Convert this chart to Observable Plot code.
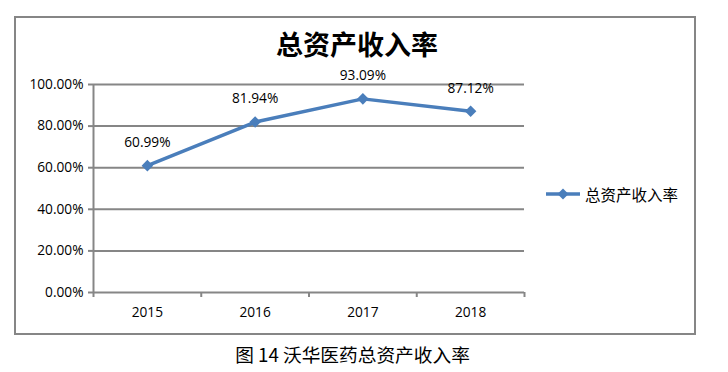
<!DOCTYPE html>
<html>
<head>
<meta charset="utf-8">
<script src="https://cdn.jsdelivr.net/npm/d3@7"></script>
<script src="https://cdn.jsdelivr.net/npm/@observablehq/plot@0.6"></script>
<style>
  html, body { margin: 0; padding: 0; background: #fff; overflow: hidden; }
  #page { position: relative; width: 728px; height: 372px; }
  #chart { position: absolute; left: 0; top: 0; }
  #frame { position: absolute; left: 14px; top: 16px; width: 682px; height: 319px;
           border: 2px solid #868686; box-sizing: border-box; pointer-events: none; }
  .cjk { font-family: "Noto Sans CJK SC", sans-serif; position: absolute; white-space: nowrap; }
  #title { left: 0; width: 714px; top: 30px; text-align: center; font-size: 27px; line-height: 27px; font-weight: 700; color: #000; }
  #legend { left: 546px; top: 184px; height: 20px; display: flex; align-items: center; }
  #legend span { font-size: 15.5px; line-height: 16px; color: #000; margin-left: 5px; }
  #caption { left: 0; width: 705px; top: 344.6px; text-align: center; font-size: 18.7px; line-height: 18.7px; color: #000; }
</style>
</head>
<body>
<div id="page">
  <div id="chart"></div>
  <div id="frame"></div>
  <div id="title" class="cjk"></div>
  <div id="legend" class="cjk"></div>
  <div id="caption" class="cjk"></div>
</div>
<script>
const chartTitle = "总资产收入率";
const seriesName = "总资产收入率";
const caption = "图 14 沃华医药总资产收入率";
const years = [2015, 2016, 2017, 2018];
const values = [0.6099, 0.8194, 0.9309, 0.8712];
const yTicks = [0, 0.2, 0.4, 0.6, 0.8, 1.0];

const lineColor = "#4a7ebb";
const gridColor = "#868686";
const fmt = d => (d * 100).toFixed(2) + "%";

const data = years.map((y, i) => ({year: y, value: values[i]}));
const boundaries = years.map(y => y - 0.5).concat([years[years.length - 1] + 0.5]);

const plot = Plot.plot({
  width: 728,
  height: 340,
  marginLeft: 93,
  marginRight: 204,
  marginTop: 84,
  marginBottom: 48,
  x: {domain: [boundaries[0], boundaries[boundaries.length - 1]]},
  y: {domain: [0, 1]},
  style: {fontFamily: "'Open Sans', sans-serif", fontSize: "13.7px", color: "#000", background: "transparent"},
  marks: [
    Plot.ruleY(yTicks, {stroke: gridColor, strokeWidth: 2, strokeOpacity: 1}),
    Plot.ruleX([boundaries[0]], {y1: 0, y2: 1, stroke: gridColor, strokeWidth: 2}),
    Plot.axisY({ticks: yTicks, tickFormat: fmt, tickSize: 5, tickPadding: 5, stroke: gridColor, strokeWidth: 2, strokeOpacity: 1, label: null, fill: "#000"}),
    Plot.axisX({ticks: boundaries, tickFormat: () => "", tickSize: 5, stroke: gridColor, strokeWidth: 2, strokeOpacity: 1, label: null}),
    Plot.axisX({ticks: years, tickFormat: d => String(d), tickSize: 0, tickPadding: 15, label: null, fill: "#000"}),
    Plot.line(data, {x: "year", y: "value", stroke: lineColor, strokeWidth: 3.5}),
    Plot.dot(data, {x: "year", y: "value", symbol: "diamond2", r: 5.2, fill: lineColor, stroke: "none"}),
    Plot.text(data, {x: "year", y: "value", text: d => fmt(d.value), dy: -23, fill: "#000", fontSize: 13.7})
  ]
});
document.getElementById("chart").appendChild(plot);

document.getElementById("title").textContent = chartTitle;
document.getElementById("caption").textContent = caption;
const legend = document.getElementById("legend");
legend.innerHTML =
  '<svg width="34" height="14" style="display:block"><line x1="0" y1="7" x2="34" y2="7" stroke="' + lineColor +
  '" stroke-width="3.5"/><path d="M17,1.5L22.5,7L17,12.5L11.5,7Z" fill="' + lineColor + '"/></svg>';
const lab = document.createElement("span");
lab.textContent = seriesName;
legend.appendChild(lab);
</script>
</body>
</html>
